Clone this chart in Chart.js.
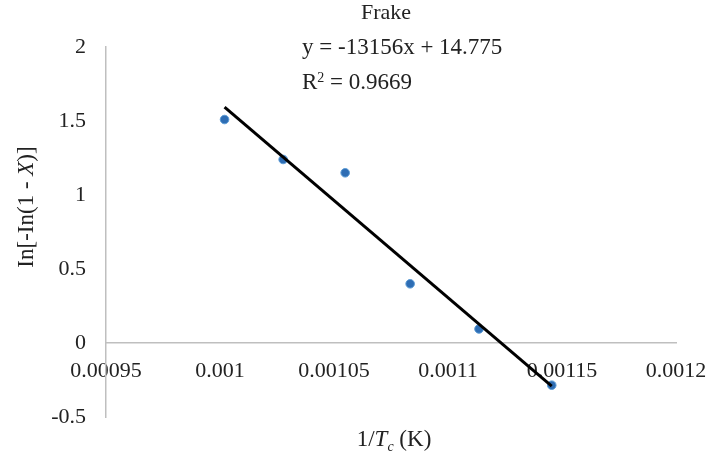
<!DOCTYPE html>
<html>
<head>
<meta charset="utf-8">
<script src="https://cdn.jsdelivr.net/npm/chart.js@4.4.1/dist/chart.umd.min.js"></script>
<style>
  html, body { margin: 0; padding: 0; background: #fff; }
</style>
</head>
<body>
<canvas id="chart" width="712" height="463"></canvas>
<script>
// data
const invTc = [0.001002, 0.0010277, 0.0010549, 0.0010834, 0.0011136, 0.0011455];
const lnVals = [1.51, 1.24, 1.15, 0.40, 0.095, -0.285];
const xTicks = [0.00095, 0.001, 0.00105, 0.0011, 0.00115, 0.0012];
const yTicks = [-0.5, 0, 0.5, 1, 1.5, 2];
const chartTitle = 'Frake';
const eqText = 'y = -13156x + 14.775';
const r2Value = '0.9669';

const FONT = '"Liberation Serif", "Times New Roman", serif';
const TXT = '#222';

// least squares trendline over the data range (like the spreadsheet trendline)
function linFit(xs, ys) {
    const n = xs.length;
    const mx = xs.reduce((a, b) => a + b, 0) / n;
    const my = ys.reduce((a, b) => a + b, 0) / n;
    let sxy = 0, sxx = 0;
    for (let i = 0; i < n; i++) {
        sxy += (xs[i] - mx) * (ys[i] - my);
        sxx += (xs[i] - mx) * (xs[i] - mx);
    }
    const m = sxy / sxx;
    return { m, b: my - m * mx };
}
const fit = linFit(invTc, lnVals);
const trendPts = [invTc[0], invTc[invTc.length - 1]].map(x => ({ x, y: fit.m * x + fit.b }));

// draws runs of text with mixed styles, left to right
function drawRuns(ctx, runs, x, y, size) {
    let cx = x;
    runs.forEach(r => {
        const s = r.size || size;
        ctx.font = (r.italic ? 'italic ' : '') + s + 'px ' + FONT;
        ctx.fillText(r.t, cx, y + (r.dy || 0));
        cx += ctx.measureText(r.t).width;
    });
}
function runsWidth(ctx, runs, size) {
    let w = 0;
    runs.forEach(r => {
        ctx.font = (r.italic ? 'italic ' : '') + (r.size || size) + 'px ' + FONT;
        w += ctx.measureText(r.t).width;
    });
    return w;
}

const textPlugin = {
    id: 'texts',
    afterDraw(chart) {
        const ctx = chart.ctx;
        ctx.save();
        ctx.fillStyle = TXT;
        ctx.textBaseline = 'middle';

        // title
        ctx.font = '22px ' + FONT;
        ctx.textAlign = 'center';
        ctx.fillText(chartTitle, 386, 13);
        ctx.textAlign = 'left';

        // trendline equation and R²
        ctx.font = '23px ' + FONT;
        ctx.fillText(eqText, 302, 48);
        drawRuns(ctx, [{ t: 'R' }, { t: '2', size: 14, dy: -5 }, { t: ' = ' + r2Value }], 302, 83, 23);

        // x axis title
        const xRuns = [{ t: '1/' }, { t: 'T', italic: true }, { t: 'c', italic: true, size: 14, dy: 7 }, { t: ' (K)' }];
        const xw = runsWidth(ctx, xRuns, 23);
        drawRuns(ctx, xRuns, 394 - xw / 2, 440, 23);

        // y axis title
        const yRuns = [{ t: 'In[-In(1 - ' }, { t: 'X', italic: true }, { t: ')]' }];
        const yw = runsWidth(ctx, yRuns, 23);
        ctx.translate(27, 207);
        ctx.rotate(-Math.PI / 2);
        drawRuns(ctx, yRuns, -yw / 2, 0, 23);
        ctx.restore();
    }
};

new Chart(document.getElementById('chart'), {
    type: 'scatter',
    data: {
        datasets: [
            {
                label: 'Frake',
                data: invTc.map((x, i) => ({ x, y: lnVals[i] })),
                backgroundColor: '#2e6db4',
                borderColor: '#5b9bd5',
                borderWidth: 1,
                pointRadius: 4.3,
                order: 2
            },
            {
                label: 'Linear',
                type: 'line',
                data: trendPts,
                borderColor: '#000',
                borderWidth: 3,
                pointRadius: 0,
                fill: false,
                order: 1
            }
        ]
    },
    options: {
        responsive: false,
        animation: false,
        devicePixelRatio: 1,
        layout: { padding: { left: 0, top: 47, right: 36, bottom: 46 } },
        plugins: {
            legend: { display: false },
            tooltip: { enabled: false }
        },
        scales: {
            x: {
                type: 'linear',
                position: { y: 0 },
                min: xTicks[0],
                max: xTicks[xTicks.length - 1],
                afterBuildTicks: s => { s.ticks = xTicks.map(v => ({ value: v })); },
                afterFit: s => { s.paddingLeft = 0; s.paddingRight = 0; },
                grid: { display: false, drawTicks: false },
                border: { display: true, color: '#bfbfbf', width: 1.5 },
                ticks: {
                    autoSkip: false,
                    maxRotation: 0,
                    padding: 15,
                    color: TXT,
                    font: { family: FONT, size: 22 },
                    callback: v => String(v)
                }
            },
            y: {
                type: 'linear',
                position: 'left',
                min: yTicks[0],
                max: yTicks[yTicks.length - 1],
                afterBuildTicks: s => { s.ticks = yTicks.map(v => ({ value: v })); },
                afterFit: s => { s.width = 106; s.paddingTop = 0; s.paddingBottom = 0; },
                grid: { display: false, drawTicks: false },
                border: { display: true, color: '#bfbfbf', width: 1.5 },
                ticks: {
                    padding: 20,
                    color: TXT,
                    font: { family: FONT, size: 22 },
                    callback: v => String(v)
                }
            }
        }
    },
    plugins: [textPlugin]
});
</script>
</body>
</html>
